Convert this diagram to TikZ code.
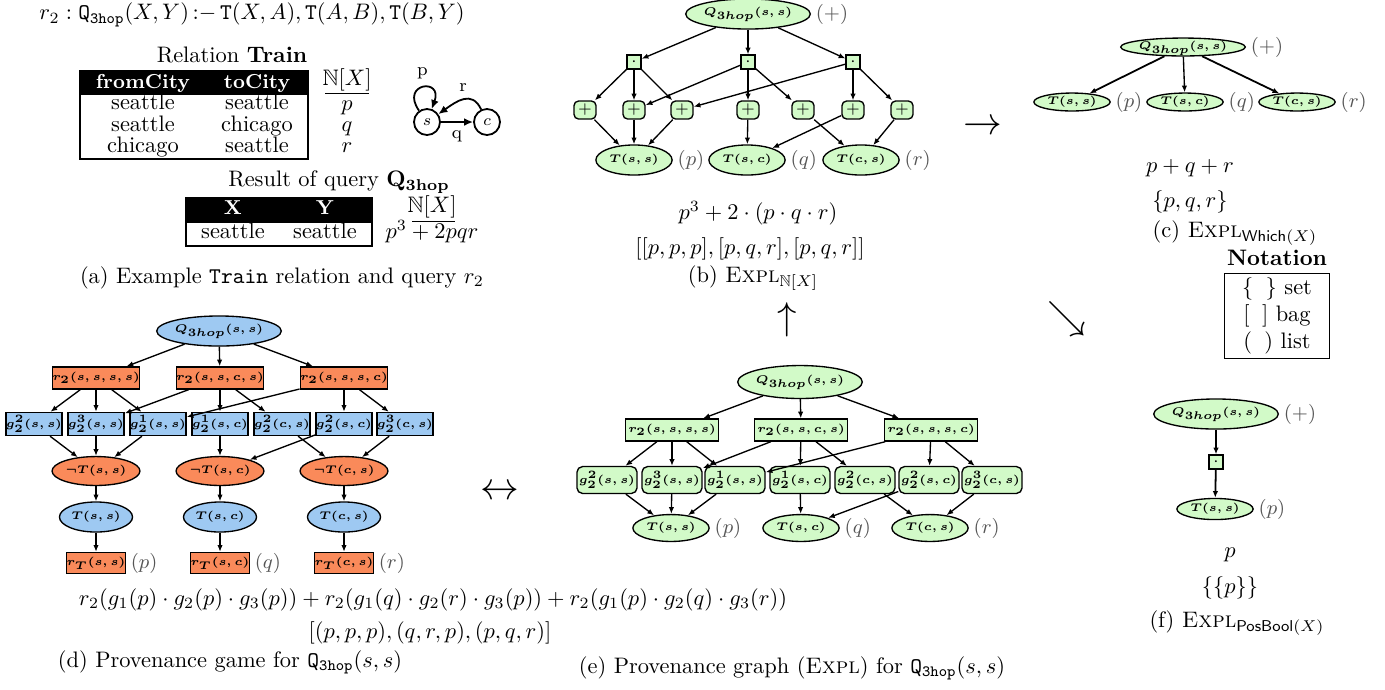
\documentclass[tikz,border=0pt]{standalone}
\usepackage{amssymb}
\usetikzlibrary{shapes.geometric, positioning, arrows.meta}

\definecolor{mygreenfill}{RGB}{210,250,200}
\definecolor{mybluefill}{RGB}{158,201,242}
\definecolor{myorangefill}{RGB}{250,138,90}
\definecolor{mygraytext}{RGB}{85,85,85}

\newcommand{\Qtt}{\mathtt{Q}_{\mathtt{3hop}}}
\newcommand{\explsc}{\textsc{Expl}}

\tikzset{
  gnode/.style = {draw, semithick, inner sep=0pt, font=\tiny\boldmath},
  ellnode/.style = {gnode, ellipse},
  boxnode/.style = {gnode, rectangle},
  rndnode/.style = {gnode, rectangle, rounded corners=2.5pt},
  % green provenance graphs
  gqell/.style = {ellnode, fill=mygreenfill, minimum width=53pt, minimum height=13.4pt},
  gtell/.style = {ellnode, fill=mygreenfill, minimum width=34pt, minimum height=13.4pt},
  flatell/.style = {text height=3.6pt, text depth=1.2pt, minimum height=8pt},
  multbox/.style = {boxnode, fill=mygreenfill, minimum size=6.2pt},
  plusbox/.style = {rndnode, fill=mygreenfill, minimum width=9.8pt, minimum height=8pt,
                    rounded corners=2pt, font=\scriptsize},
  grule/.style = {boxnode, fill=mygreenfill, minimum width=41.5pt, minimum height=9.8pt},
  gatom/.style = {rndnode, fill=mygreenfill, minimum width=26.8pt, minimum height=12pt},
  % provenance game
  bqell/.style = {ellnode, fill=mybluefill, minimum width=51pt, minimum height=13.4pt},
  orule/.style = {boxnode, fill=myorangefill, minimum width=37pt, minimum height=9.8pt},
  batom/.style = {boxnode, fill=mybluefill, minimum width=25pt, minimum height=10.3pt},
  negell/.style = {ellnode, fill=myorangefill, minimum width=39.2pt, minimum height=12.9pt},
  btell/.style = {ellnode, fill=mybluefill, minimum width=32.6pt, minimum height=13.4pt},
  rtbox/.style = {boxnode, fill=myorangefill, minimum width=25.9pt, minimum height=9.4pt},
  ann/.style = {font=\small\unboldmath, text=mygraytext, inner sep=1pt},
  arr/.style = {-{Latex[length=3pt,width=2.4pt]}, semithick},
  statenode/.style = {circle, draw, thick, minimum size=11.6pt, inner sep=0pt, font=\scriptsize},
  statearr/.style = {-{Latex[length=4pt,width=3.5pt]}, thick},
  cell/.style = {inner sep=0pt, text height=6.9pt, text depth=1.9pt},
  headcell/.style = {cell, text=white, font=\small\bfseries},
  bigarrow/.style = {font=\LARGE}
}

\begin{document}
\begin{tikzpicture}[x=0.446pt, y=-0.446pt, label distance=1pt]
  \useasboundingbox (0,0) rectangle (1385,689);

  % (a) relation and query
  \node (rule) at (252,15) {$r_2 : \Qtt(X,Y)\,{:}{-}\,\mathtt{T}(X,A),\mathtt{T}(A,B),\mathtt{T}(B,Y)$};
  \node (reltitle) at (232,55) {Relation \textbf{Train}};
  \fill (80,71) rectangle (308,95);
  \draw[semithick] (80,71) rectangle (308,159);
  \node[headcell] (hfrom) at (143,83) {fromCity};
  \node[headcell] (hto) at (257,83) {toCity};
  \node[cell] (f1) at (143,104) {seattle};
  \node[cell] (f2) at (143,126) {seattle};
  \node[cell] (f3) at (143,147) {chicago};
  \node[cell] (t1) at (257,104) {seattle};
  \node[cell] (t2) at (257,126) {chicago};
  \node[cell] (t3) at (257,147) {seattle};
  \node[cell] (nx1) at (347,80) {$\mathbb{N}[X]$};
  \draw (325,93) -- (369,93);
  \node[cell] (ann1) at (347,105) {$p$};
  \node[cell] (ann2) at (347,126) {$q$};
  \node[cell] (ann3) at (347,147) {$r$};

  \node[statenode] (s) at (427,122) {$s$};
  \node[statenode] (c) at (487,122) {$c$};
  \path[statearr]
        (s) edge node[below, font=\footnotesize] {q} (c)
        (c) edge[out=115, in=35, looseness=1.3] node[above, font=\footnotesize] {r} (s)
        (s) edge[out=125, in=70, min distance=15pt] node[above, font=\footnotesize] {p} (s);

  \node (restitle) at (339,182) {Result of query $\mathbf{Q_{3hop}}$};
  \fill (186,198) rectangle (372,223);
  \draw[semithick] (186,198) rectangle (372,246);
  \node[headcell] (hx) at (233,209) {X};
  \node[headcell] (hy) at (325,209) {Y};
  \node[cell] (rx) at (233,233) {seattle};
  \node[cell] (ry) at (325,233) {seattle};
  \node[cell] (nx2) at (432,207) {$\mathbb{N}[X]$};
  \draw (412,221) -- (455,221);
  \node[cell] (resann) at (432,233) {$p^3+2pqr$};
  \node (capa) at (282,278) {(a) Example \texttt{Train} relation and query $r_2$};

  % (b) Expl over N[X]
  \node[gqell, label={[ann]right:$(+)$}] (bQ) at (748,14) {$Q_{3hop}(s,s)$};
  \node[multbox] (bm1) at (634,62) {$\cdot$};
  \node[multbox] (bm2) at (748,62) {$\cdot$};
  \node[multbox] (bm3) at (853,62) {$\cdot$};
  \node[plusbox] (bp1) at (585,110) {$+$};
  \node[plusbox] (bp2) at (634,110) {$+$};
  \node[plusbox] (bp3) at (682,110) {$+$};
  \node[plusbox] (bp4) at (748,110) {$+$};
  \node[plusbox] (bp5) at (803,110) {$+$};
  \node[plusbox] (bp6) at (853,110) {$+$};
  \node[plusbox] (bp7) at (902,110) {$+$};
  \node[gtell, label={[ann]right:$(p)$}] (bT1) at (634,160) {$T(s,s)$};
  \node[gtell, label={[ann]right:$(q)$}] (bT2) at (747,160) {$T(s,c)$};
  \node[gtell, label={[ann]right:$(r)$}] (bT3) at (861,160) {$T(c,s)$};

  \path[arr] (bQ) edge (bm1) edge (bm2) edge (bm3);
  \path[arr] (bm1) edge (bp1) edge (bp2) edge (bp3)
             (bm2) edge (bp2) edge (bp4) edge (bp5)
             (bm3) edge (bp3) edge (bp6) edge (bp7);
  \path[arr] (bp1) edge (bT1) (bp2) edge (bT1) (bp3) edge (bT1)
             (bp4) edge (bT2) (bp6) edge (bT2)
             (bp5) edge (bT3) (bp7) edge (bT3);

  \node (bpoly) at (758,213) {$p^3 + 2\cdot(p\cdot q\cdot r)$};
  \node (bbag) at (750,249) {$[[p,p,p],[p,q,r],[p,q,r]]$};
  \node (capb) at (753,278) {(b) \explsc$_{\mathbb{N}[X]}$};

  % (c) Expl over Which(X)
  \node[gqell, flatell, label={[ann]right:$(+)$}] (cQ) at (1183,47) {$Q_{3hop}(s,s)$};
  \node[gtell, flatell, label={[ann]right:$(p)$}] (cT1) at (1072,102) {$T(s,s)$};
  \node[gtell, flatell, label={[ann]right:$(q)$}] (cT2) at (1185,102) {$T(s,c)$};
  \node[gtell, flatell, label={[ann]right:$(r)$}] (cT3) at (1297,102) {$T(c,s)$};
  \path[arr] (cQ) edge[thick] (cT1) edge (cT2) edge[thick] (cT3);
  \node (cpoly) at (1190,168) {$p+q+r$};
  \node (cset) at (1190,202) {$\{p,q,r\}$};
  \node (capc) at (1235,233) {(c) \explsc$_{\mathsf{Which}(X)}$};

  % notation
  \node[font=\bfseries] (nottitle) at (1277,258) {Notation};
  \node[draw, semithick, align=center, minimum width=47pt, inner sep=2pt] (notbox) at (1277,316)
        {$\{\;\;\}$ set\\ $[\;\;]$ bag\\ $(\;\;)$ list};

  % (f) Expl over PosBool(X)
  \node[gqell, label={[ann]right:$(+)$}] (fQ) at (1216,414) {$Q_{3hop}(s,s)$};
  \node[multbox] (fm) at (1216,462) {$\cdot$};
  \node[gtell, minimum height=9.4pt, label={[ann]right:$(p)$}] (fT) at (1215,509) {$T(s,s)$};
  \path[arr] (fQ) edge (fm) (fm) edge[thick] (fT);
  \node (fpoly) at (1230,555) {$p$};
  \node (fset) at (1230,588) {$\{\{p\}\}$};
  \node (capf) at (1237,623) {(f) \explsc$_{\mathsf{PosBool}(X)}$};

  % (d) provenance game
  \node[bqell] (dQ) at (219,331) {$Q_{3hop}(s,s)$};
  \node[orule] (dr1) at (96,378) {$r_2(s,s,s,s)$};
  \node[orule] (dr2) at (220,378) {$r_2(s,s,c,s)$};
  \node[orule] (dr3) at (344,378) {$r_2(s,s,s,c)$};
  \node[batom] (dg1) at (34,424) {$g_2^2(s,s)$};
  \node[batom] (dg2) at (96,424) {$g_2^3(s,s)$};
  \node[batom] (dg3) at (158,424) {$g_2^1(s,s)$};
  \node[batom] (dg4) at (220,424) {$g_2^1(s,c)$};
  \node[batom] (dg5) at (282,424) {$g_2^2(c,s)$};
  \node[batom] (dg6) at (344,424) {$g_2^2(s,c)$};
  \node[batom] (dg7) at (405,424) {$g_2^3(c,s)$};
  \node[negell] (dn1) at (96,471) {$\neg T(s,s)$};
  \node[negell] (dn2) at (220,471) {$\neg T(s,c)$};
  \node[negell] (dn3) at (344,471) {$\neg T(c,s)$};
  \node[btell] (dT1) at (96,517) {$T(s,s)$};
  \node[btell] (dT2) at (220,517) {$T(s,c)$};
  \node[btell] (dT3) at (344,517) {$T(c,s)$};
  \node[rtbox, label={[ann]right:$(p)$}] (dl1) at (96,563) {$r_T(s,s)$};
  \node[rtbox, label={[ann]right:$(q)$}] (dl2) at (220,563) {$r_T(s,c)$};
  \node[rtbox, label={[ann]right:$(r)$}] (dl3) at (344,563) {$r_T(c,s)$};

  \path[arr] (dQ) edge (dr1) edge (dr2) edge (dr3);
  \path[arr] (dr1) edge (dg1) edge (dg2) edge (dg3)
             (dr2) edge (dg2) edge (dg4) edge (dg5)
             (dr3) edge (dg3) edge (dg6) edge (dg7);
  \path[arr] (dg1) edge (dn1) (dg2) edge (dn1) (dg3) edge (dn1)
             (dg4) edge (dn2) (dg6) edge (dn2)
             (dg5) edge (dn3) (dg7) edge (dn3);
  \path[arr] (dn1) edge (dT1) (dn2) edge (dT2) (dn3) edge (dT3)
             (dT1) edge (dl1) (dT2) edge (dl2) (dT3) edge (dl3);

  % (e) provenance graph
  \node[gqell, minimum height=14.7pt] (eQ) at (800,382) {$Q_{3hop}(s,s)$};
  \node[grule] (er1) at (672,430) {$r_2(s,s,s,s)$};
  \node[grule] (er2) at (801,430) {$r_2(s,s,c,s)$};
  \node[grule] (er3) at (931,430) {$r_2(s,s,s,c)$};
  \node[gatom] (eg1) at (607,480) {$g_2^2(s,s)$};
  \node[gatom] (eg2) at (672,480) {$g_2^3(s,s)$};
  \node[gatom] (eg3) at (735,480) {$g_2^1(s,s)$};
  \node[gatom] (eg4) at (800,480) {$g_2^1(s,c)$};
  \node[gatom] (eg5) at (865,480) {$g_2^2(c,s)$};
  \node[gatom] (eg6) at (929,480) {$g_2^2(s,c)$};
  \node[gatom] (eg7) at (992,480) {$g_2^3(c,s)$};
  \node[gtell, minimum height=12pt, label={[ann]right:$(p)$}] (eT1) at (671,528) {$T(s,s)$};
  \node[gtell, minimum height=12pt, label={[ann]right:$(q)$}] (eT2) at (801,528) {$T(s,c)$};
  \node[gtell, minimum height=12pt, label={[ann]right:$(r)$}] (eT3) at (930,528) {$T(c,s)$};

  \path[arr] (eQ) edge (er1) edge (er2) edge (er3);
  \path[arr] (er1) edge (eg1) edge (eg2) edge (eg3)
             (er2) edge (eg2) edge (eg4) edge (eg5)
             (er3) edge (eg3) edge (eg6) edge (eg7);
  \path[arr] (eg1) edge (eT1) (eg2) edge (eT1) (eg3) edge (eT1)
             (eg4) edge (eT2) (eg6) edge (eT2)
             (eg5) edge (eT3) (eg7) edge (eT3);

  % shared formulas and captions
  \node (dform) at (433,600) {$r_2(g_1(p)\cdot g_2(p)\cdot g_3(p)) + r_2(g_1(q)\cdot g_2(r)\cdot g_3(p)) + r_2(g_1(p)\cdot g_2(q)\cdot g_3(r))$};
  \node (dlist) at (430,633) {$[(p,p,p),(q,r,p),(p,q,r)]$};
  \node (capd) at (230,662) {(d) Provenance game for $\Qtt(s,s)$};
  \node (cape) at (792,668) {(e) Provenance graph (\explsc) for $\Qtt(s,s)$};

  % arrows between panels
  \node[bigarrow] (arrbc) at (983,127) {$\rightarrow$};
  \node[bigarrow] (arrcf) at (1067,319) {$\searrow$};
  \node[bigarrow] (arreb) at (787,320) {$\uparrow$};
  \node[bigarrow] (arrde) at (500,492) {$\leftrightarrow$};
\end{tikzpicture}
\end{document}
